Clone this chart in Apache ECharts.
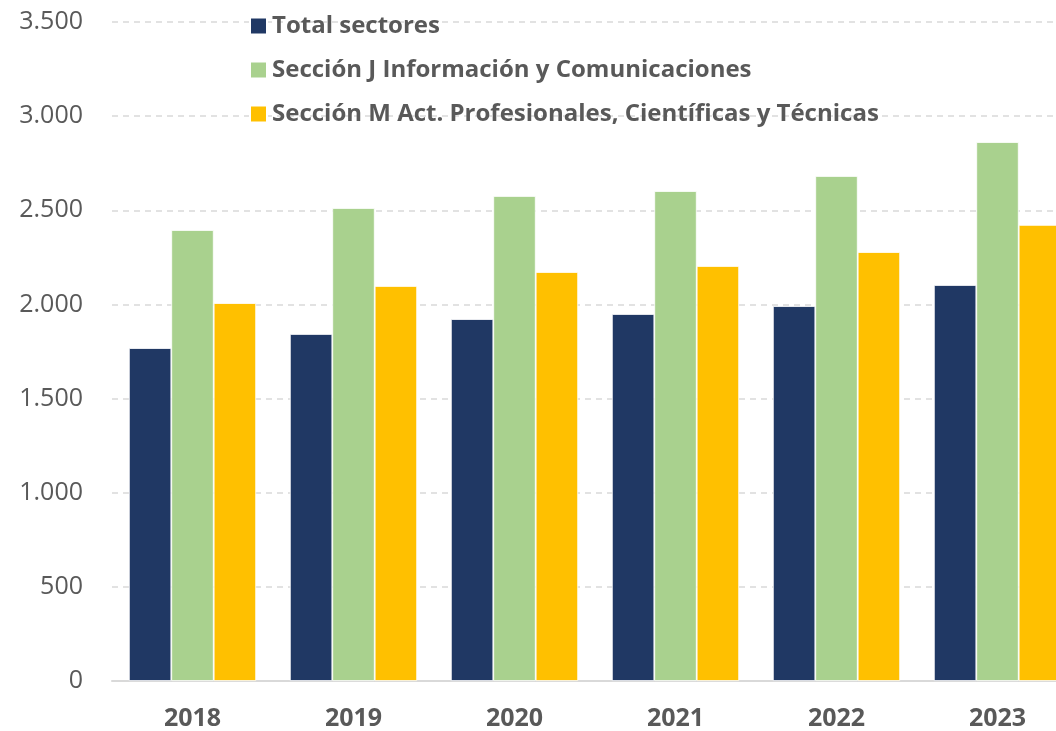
<!DOCTYPE html>
<html>
<head>
<meta charset="utf-8">
<script src="https://cdn.jsdelivr.net/npm/echarts@6/dist/echarts.min.js"></script>
<style>
  html, body { margin: 0; padding: 0; background: #fff; }
  #chart { width: 1056px; height: 731px; }
</style>
</head>
<body>
<div id="chart"></div>
<script>
// datos
var years = ["2018", "2019", "2020", "2021", "2022", "2023"];
var totalSectores = [1768, 1843, 1922, 1949, 1991, 2103];
var seccionJ = [2395, 2512, 2576, 2602, 2682, 2862];
var seccionM = [2007, 2098, 2172, 2204, 2278, 2422];

var textColor = "#595959";
var fontFam = "'Open Sans', 'Noto Sans', sans-serif";

var chart = echarts.init(document.getElementById("chart"));

function fmt(v) {
  return String(v).replace(/\B(?=(\d{3})+(?!\d))/g, ".");
}

chart.setOption({
  animation: false,
  textStyle: { fontFamily: fontFam },
  legend: {
    orient: "vertical",
    left: 244,
    top: 9,
    itemWidth: 17,
    itemHeight: 17,
    itemGap: 20,
    icon: "rect",
    textStyle: {
      color: textColor,
      fontSize: 24,
      fontWeight: "bold",
      fontFamily: fontFam
    },
    data: [
      "Total sectores",
      "Sección J Información y Comunicaciones",
      "Sección M Act. Profesionales, Científicas y Técnicas"
    ]
  },
  grid: {
    left: 112,
    right: -22,
    top: 22,
    bottom: 50,
    containLabel: false,
    outerBoundsMode: "none"
  },
  xAxis: {
    type: "category",
    data: years,
    axisTick: { show: false },
    axisLine: { lineStyle: { color: "#d9d9d9", width: 2 } },
    axisLabel: {
      color: textColor,
      fontSize: 25,
      fontWeight: "bold",
      margin: 25
    }
  },
  yAxis: {
    type: "value",
    min: 0,
    max: 3500,
    interval: 500,
    axisLine: { show: false },
    axisTick: { show: false },
    splitLine: { lineStyle: { color: "#d9d9d9", type: [6, 5], width: 1.5 } },
    axisLabel: {
      color: textColor,
      fontSize: 25,
      margin: 29,
      formatter: fmt
    }
  },
  series: [
    {
      name: "Total sectores",
      type: "bar",
      data: totalSectores,
      barGap: "0%",
      barCategoryGap: "21%",
      itemStyle: { color: "#203864", borderColor: "#fff", borderWidth: 0.8 }
    },
    {
      name: "Sección J Información y Comunicaciones",
      type: "bar",
      data: seccionJ,
      itemStyle: { color: "#a9d18e", borderColor: "#fff", borderWidth: 0.8 }
    },
    {
      name: "Sección M Act. Profesionales, Científicas y Técnicas",
      type: "bar",
      data: seccionM,
      itemStyle: { color: "#ffc000", borderColor: "#fff", borderWidth: 0.8 }
    }
  ]
});
</script>
</body>
</html>
